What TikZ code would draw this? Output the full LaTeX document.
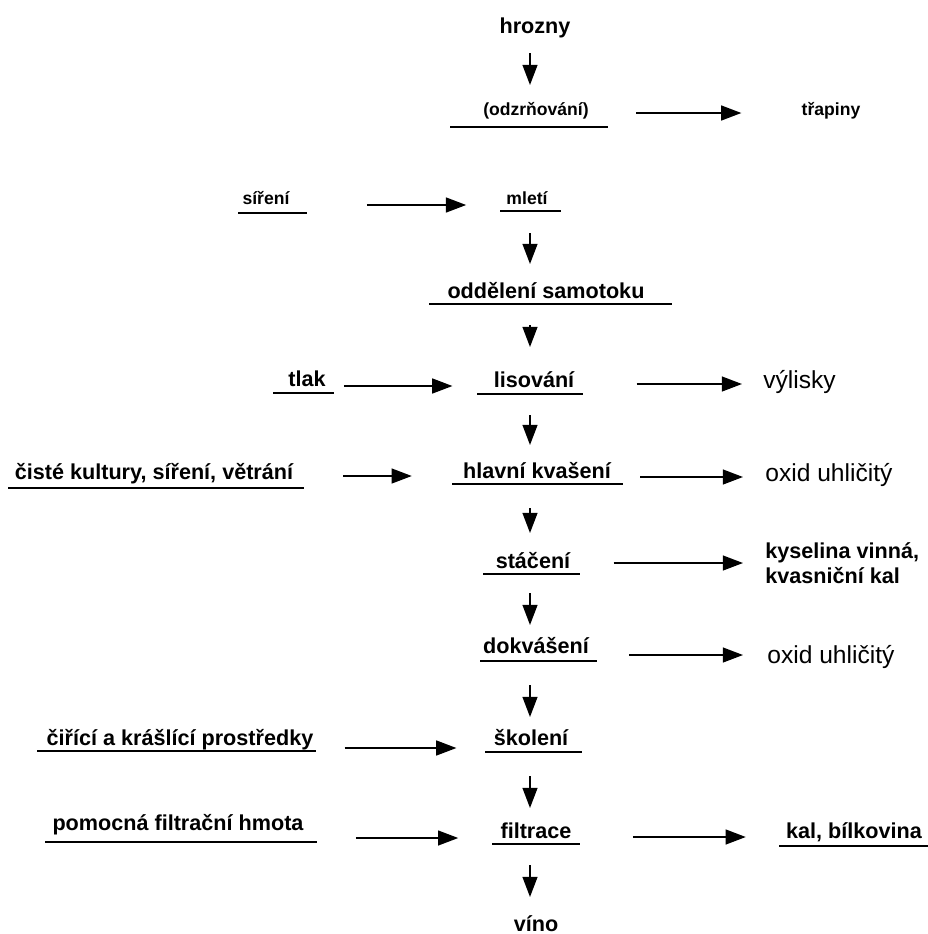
\documentclass[tikz,border=0pt]{standalone}
\usepackage{fontspec}
\setmainfont{Liberation Sans}
\usetikzlibrary{arrows.meta}
\usetikzlibrary{calc}

\begin{document}
\begin{tikzpicture}[x=0.02cm, y=-0.02cm,
        proc/.style={anchor=base, inner sep=0pt, font=\bfseries\fontsize{12.3}{14.2}\selectfont},
        minor/.style={anchor=base, inner sep=0pt, font=\bfseries\fontsize{10}{12}\selectfont},
        waste/.style={anchor=base west, inner sep=0pt, font=\fontsize{14}{17}\selectfont},
        uline/.style={line width=1pt},
        arr/.style={line width=0.9pt, -{Triangle[length=11.5pt,width=8.5pt]}}]
        \useasboundingbox (0,0) rectangle (928,934);
        \coordinate (axis) at (530,0);

        % main line
        \node[proc] (hrozny) at (535,33) {hrozny};
        \node[minor] (odz) at (536,115) {(odzrňování)};
        \node[minor] (mleti) at (527,204) {mletí};
        \node[proc] (samotok) at (546,298) {oddělení samotoku};
        \node[proc] (lis) at (534,387) {lisování};
        \node[proc] (hlavni) at (537,478) {hlavní kvašení};
        \node[proc] (staceni) at (533,568) {stáčení};
        \node[proc] (dokvas) at (536,653) {dokvášení};
        \node[proc] (skoleni) at (531,745) {školení};
        \node[proc] (filtrace) at (536,838) {filtrace};
        \node[proc] (vino) at (536,931) {víno};

        % what goes in
        \node[minor] (sireni) at (266,204) {síření};
        \node[proc] (tlak) at (307,386) {tlak};
        \node[proc] (kultury) at (154,479) {čisté kultury, síření, větrání};
        \node[proc] (ciri) at (180,745) {čiřící a krášlící prostředky};
        \node[proc] (pomoc) at (178,830) {pomocná filtrační hmota};

        % what comes out
        \node[minor] (trapiny) at (831,115) {třapiny};
        \node[waste] (vylisky) at (763,388) {výlisky};
        \node[waste] (oxid) at (765,481) {oxid uhličitý};
        \node[proc, anchor=base west, align=left] (kyselina) at (765,583) {kyselina vinná,\\kvasniční kal};
        \node[waste] (oxidb) at (767,663) {oxid uhličitý};
        \node[proc] (kal) at (854,838) {kal, bílkovina};

        \draw[uline] (450,127) -- (608,127);
        \draw[uline] (238,213) -- (307,213);
        \draw[uline] (500,211) -- (561,211);
        \draw[uline] (429,304) -- (672,304);
        \draw[uline] (273,393) -- (334,393);
        \draw[uline] (477,394) -- (583,394);
        \draw[uline] (8,488) -- (304,488);
        \draw[uline] (452,484) -- (623,484);
        \draw[uline] (483,574) -- (580,574);
        \draw[uline] (480,661) -- (597,661);
        \draw[uline] (37,751) -- (316,751);
        \draw[uline] (485,752) -- (582,752);
        \draw[uline] (45,842) -- (317,842);
        \draw[uline] (492,844) -- (580,844);
        \draw[uline] (779,846) -- (928,846);

        \draw[arr] ($(hrozny.base -| axis)+(0,20)$) -- ($(odz.base -| axis)+(0,-30)$);
        \draw[arr] ($(mleti.base -| axis)+(0,29)$) -- ($(samotok.base -| axis)+(0,-34)$);
        \draw[arr] ($(samotok.base -| axis)+(0,27)$) -- ($(lis.base -| axis)+(0,-40)$);
        \draw[arr] ($(lis.base -| axis)+(0,28)$) -- ($(hlavni.base -| axis)+(0,-33)$);
        \draw[arr] ($(hlavni.base -| axis)+(0,30)$) -- ($(staceni.base -| axis)+(0,-35)$);
        \draw[arr] ($(staceni.base -| axis)+(0,25)$) -- ($(dokvas.base -| axis)+(0,-28)$);
        \draw[arr] ($(dokvas.base -| axis)+(0,32)$) -- ($(skoleni.base -| axis)+(0,-28)$);
        \draw[arr] ($(skoleni.base -| axis)+(0,31)$) -- ($(filtrace.base -| axis)+(0,-30)$);
        \draw[arr] ($(filtrace.base -| axis)+(0,27)$) -- ($(vino.base -| axis)+(0,-34)$);

        \draw[arr] ($(odz.base east)+(47,-2)$) -- ($(trapiny.base west)+(-60,-2)$);
        \draw[arr] ($(sireni.base east)+(77,1)$) -- ($(mleti.base west)+(-40,1)$);
        \draw[arr] ($(tlak.base east)+(18,0)$) -- ($(lis.base west)+(-41,-1)$);
        \draw[arr] ($(lis.base east)+(62,-3)$) -- ($(vylisky.base west)+(-21,-4)$);
        \draw[arr] ($(kultury.base east)+(50,-3)$) -- ($(hlavni.base west)+(-51,-2)$);
        \draw[arr] ($(hlavni.base east)+(29,-1)$) -- ($(oxid.base west)+(-22,-4)$);
        \draw[arr] ($(staceni.base east)+(43,-5)$) -- ($(staceni.base east -| kyselina.west)+(-22,-5)$);
        \draw[arr] ($(dokvas.base east)+(40,2)$) -- ($(dokvas.base east -| oxidb.west)+(-24,2)$);
        \draw[arr] ($(ciri.base east)+(31,3)$) -- ($(skoleni.base west)+(-37,3)$);
        \draw[arr] ($(pomoc.base east |- filtrace.base)+(52,0)$) -- ($(filtrace.base west)+(-42,0)$);
        \draw[arr] ($(filtrace.base east)+(61,-1)$) -- ($(kal.base west)+(-40,-1)$);

    \end{tikzpicture}
\end{document}
